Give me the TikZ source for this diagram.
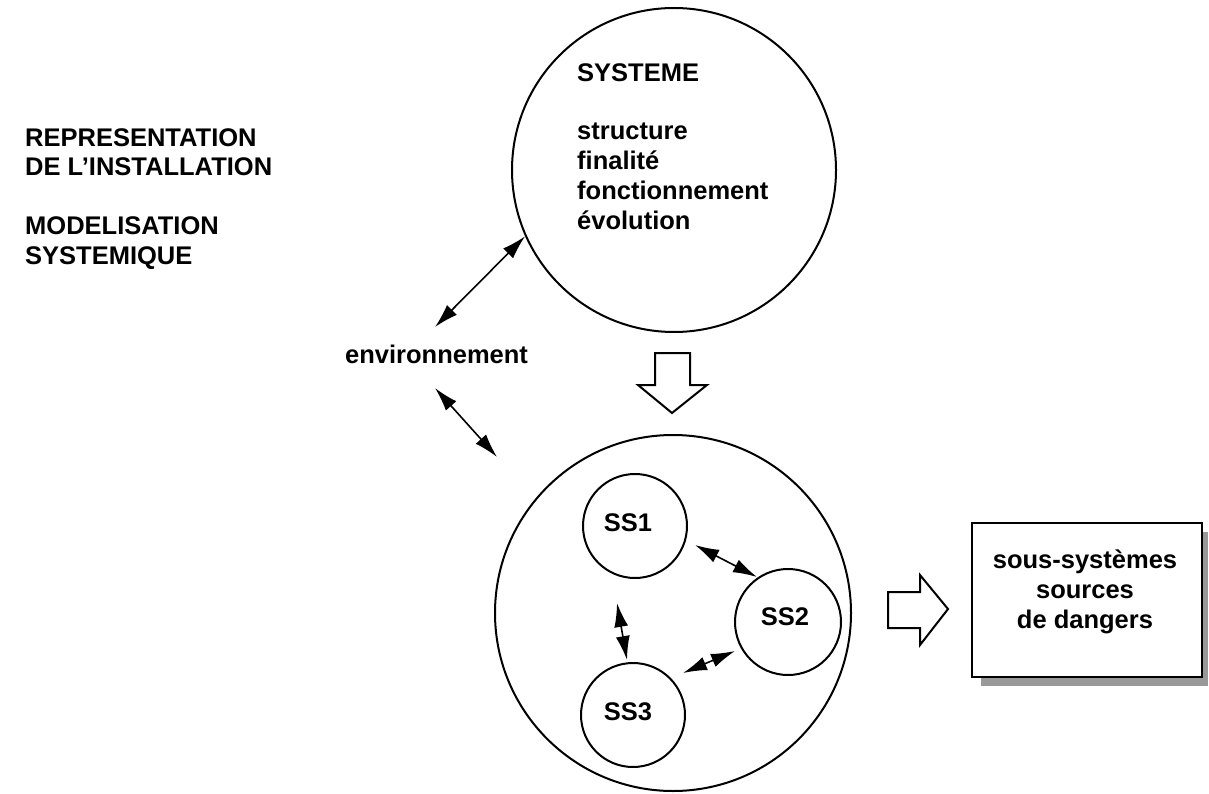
\documentclass[tikz,border=0pt]{standalone}
\usepackage{fontspec}
\setmainfont{Liberation Sans}
\usetikzlibrary{arrows.meta}
\begin{document}
\begin{tikzpicture}[x=1pt,y=-1pt,
  txt/.style={font=\fontsize{25.5}{30}\selectfont\bfseries, inner sep=0pt},
  circ/.style={circle, draw, line width=2pt, inner sep=0pt},
  >={Latex[length=24pt,width=14pt]},
  dbl/.style={<->, line width=1.6pt},
  blockarrow/.style={draw, line width=2pt, fill=white, line join=miter}
]
\useasboundingbox (0,0) rectangle (1209,794);

% left titles
\node[txt, anchor=base west] (t1) at (25,147) {REPRESENTATION};
\node[txt, anchor=base west] (t2) at (25,176) {DE L'INSTALLATION};
\node[txt, anchor=base west] (t3) at (25,235) {MODELISATION};
\node[txt, anchor=base west] (t4) at (25,265) {SYSTEMIQUE};

% system circle
\node[circ, minimum size=324pt] (sys) at (674,170) {};
\node[txt, anchor=base west] (s0) at (577,82) {SYSTEME};
\node[txt, anchor=base west] (s1) at (577,140) {structure};
\node[txt, anchor=base west] (s2) at (577,170) {finalité};
\node[txt, anchor=base west] (s3) at (577,200) {fonctionnement};
\node[txt, anchor=base west] (s4) at (577,230) {évolution};

% environment
\node[txt, anchor=base west] (env) at (345,363) {environnement};
\coordinate (e1) at (435,327);
\coordinate (e2) at (435,388);
\coordinate (e3) at (497,457);
\draw[dbl] (e1) -- (sys.204);
\draw[dbl] (e2) -- (e3);

% down block arrow
\draw[blockarrow] (655,353) -- (690,353) -- (690,385) -- (707,385) -- (672,413) -- (638,385) -- (655,385) -- cycle;

% lower circle with subsystems
\node[circ, minimum size=356pt] (low) at (673,613) {};
\node[circ, minimum size=104pt] (ss1) at (635,526) {};
\node[circ, minimum size=106pt] (ss2) at (788,622) {};
\node[circ, minimum size=104pt] (ss3) at (633,715) {};
\node[txt] (l1) at (628,523) {SS1};
\node[txt] (l2) at (785,617) {SS2};
\node[txt] (l3) at (628,712) {SS3};

\coordinate (a1) at (695,545);
\coordinate (a2) at (757,577);
\coordinate (b1) at (617,603);
\coordinate (b2) at (627,660);
\coordinate (c1) at (735,651);
\coordinate (c2) at (683,673);
\draw[dbl] (a1) -- (a2);
\draw[dbl] (b1) -- (b2);
\draw[dbl] (c1) -- (c2);

% right block arrow
\draw[blockarrow] (888,592) -- (920,592) -- (920,575) -- (948,609) -- (920,645) -- (920,628) -- (888,628) -- cycle;

% result box with shadow
\fill[gray!80] (981,532) rectangle (1208,686);
\node[draw, fill=white, line width=2pt, minimum width=230pt, minimum height=154pt, inner sep=0pt] (box) at (1087,600) {};
\node[txt, anchor=base] (r1) at (1085,568) {sous-systèmes};
\node[txt, anchor=base] (r2) at (1085,598) {sources};
\node[txt, anchor=base] (r3) at (1085,628) {de dangers};
\end{tikzpicture}
\end{document}
